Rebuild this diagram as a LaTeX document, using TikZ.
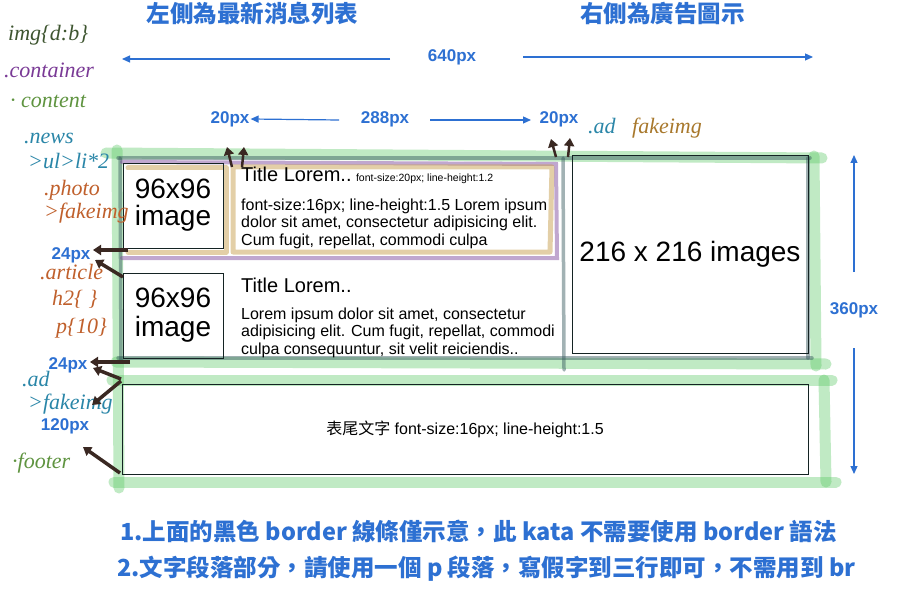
\documentclass[tikz,border=0pt]{standalone}
\usepackage{fontspec}
\setmainfont{Liberation Sans}
\newfontfamily\cjk{Noto Sans CJK TC}
\newfontfamily\handf{Liberation Serif}
\usetikzlibrary{arrows.meta}
\definecolor{dimblue}{RGB}{45,112,210}
\definecolor{ptr}{RGB}{58,40,34}
\definecolor{boxc}{RGB}{20,35,35}
\definecolor{brushgreen}{RGB}{90,200,100}
\definecolor{slate}{RGB}{50,85,90}
\definecolor{brushpurple}{RGB}{130,80,160}
\definecolor{brushgold}{RGB}{200,160,80}
\definecolor{hOlive}{RGB}{62,85,48}
\definecolor{hPurple}{RGB}{122,58,150}
\definecolor{hGreen}{RGB}{95,148,64}
\definecolor{hTeal}{RGB}{42,134,168}
\definecolor{hOrange}{RGB}{192,96,44}
\definecolor{hGold}{RGB}{168,120,44}
\tikzset{
  dimlbl/.style={text=dimblue, font=\bfseries\fontsize{17}{17}\selectfont, inner sep=1pt},
  dimarrow/.style={draw=dimblue, line width=1.2pt, -{Triangle[length=8pt,width=7pt]}},
  pointer/.style={draw=ptr, line width=3.5pt, -{Triangle[length=8pt,width=10pt]}},
  hand/.style={font=\handf\itshape\fontsize{22}{23}\selectfont, anchor=west, inner sep=0pt},
  box/.style={draw=boxc, line width=0.8pt},
  brushG/.style={draw=brushgreen, line width=11pt, opacity=0.38, line cap=round},
  brushS/.style={draw=slate, line width=3.5pt, opacity=0.45, line cap=round},
  brushP/.style={draw=brushpurple, line width=4pt, opacity=0.5, line cap=round},
  brushY/.style={draw=brushgold, line width=5pt, opacity=0.5, line cap=round, line join=round},
  headline/.style={text=dimblue, font=\cjk\bfseries\fontsize{23.5}{24}\selectfont, inner sep=0pt},
  noteline/.style={text=dimblue, font=\cjk\bfseries\fontsize{23.5}{24}\selectfont, inner sep=0pt, anchor=west},
  bodytxt/.style={font=\fontsize{16}{17.5}\selectfont, align=left, inner sep=0pt, anchor=base west},
}
\begin{document}
\begin{tikzpicture}[x=1pt,y=-1pt]
\useasboundingbox[fill=white] (0,0) rectangle (901,612);

% ---------- brush strokes ----------
\draw[brushG] (106,153) -- (822,158);
\draw[brushG] (116,362) -- (826,364);
\draw[brushG] (117,150) -- (119,488);
\draw[brushG] (814,156) -- (816,366);
\draw[brushG] (112,380) -- (832,380);
\draw[brushG] (824,380) -- (826,482);
\draw[brushG] (114,482) -- (836,482);

\draw[brushS] (118,158) -- (810,158);
\draw[brushS] (120,158) -- (121,360);
\draw[brushS] (118,358) -- (812,358);
\draw[brushS] (808,158) -- (808,358);
\draw[brushS] (563,158) -- (564,370);

\draw[brushP] (122,162) -- (556,164) -- (557,258) -- (122,258);
\draw[brushY] (128,168) -- (226,168) -- (226,252) -- (128,252);
\draw[brushY] (233,167) -- (552,167) -- (550,252) -- (233,252) -- cycle;

% ---------- boxes ----------
\node[box, minimum width=100pt, minimum height=85pt, align=center,
      font=\fontsize{28}{27}\selectfont] (img1) at (173,205.5) {96x96\\image};
\node[box, minimum width=100pt, minimum height=85pt, align=center,
      font=\fontsize{28}{29}\selectfont] (img2) at (173,315.5) {96x96\\image};
\node[box, minimum width=236pt, minimum height=198pt,
      font=\fontsize{28}{28}\selectfont] (ad) at (690,254) {216 x 216 images};
\node[box, minimum width=686pt, minimum height=90pt,
      font=\fontsize{16}{16}\selectfont] (footer) at (465,429) {{\cjk 表尾文字} font-size:16px; line-height:1.5};

% ---------- article texts ----------
\node[bodytxt] (t1) at (241,182) {{\fontsize{20}{20}\selectfont Title Lorem..}\ {\fontsize{10.5}{11}\selectfont font-size:20px; line-height:1.2}};
\node[bodytxt] (p1) at (241,245) {font-size:16px; line-height:1.5 Lorem ipsum\\dolor sit amet, consectetur adipisicing elit.\\Cum fugit, repellat, commodi culpa};
\node[bodytxt] (t2) at (241,292) {\fontsize{20}{20}\selectfont Title Lorem..};
\node[bodytxt] (p2) at (241,354) {Lorem ipsum dolor sit amet, consectetur\\adipisicing elit. Cum fugit, repellat, commodi\\culpa consequuntur, sit velit reiciendis..};

% ---------- headings ----------
\node[headline] (hl) at (252.5,14) {左側為最新消息列表};
\node[headline] (hr) at (662.5,14) {右側為廣告圖示};

% ---------- dimension labels ----------
\node[dimlbl] (w640) at (452,57) {640px};
\coordinate (w640a) at (390,59); \coordinate (w640L) at (122,59);
\coordinate (w640b) at (523,57); \coordinate (w640R) at (813,57);
\draw[dimarrow] (w640a) -- (w640L);
\draw[dimarrow] (w640b) -- (w640R);

\node[dimlbl] (g20l) at (230,119) {20px};
\node[dimlbl] (w288) at (385,119) {288px};
\node[dimlbl] (g20r) at (559,119) {20px};
\coordinate (w288a) at (339,120); \coordinate (w288b) at (430,120); \coordinate (w288R) at (531,120);
\draw[dimarrow] (w288a) -- (g20l.east);
\draw[dimarrow] (w288b) -- (w288R);

\node[dimlbl] (h360) at (854,310) {360px};
\coordinate (h360a) at (854,272); \coordinate (h360T) at (854,155);
\coordinate (h360b) at (854,348); \coordinate (h360B) at (854,474);
\draw[dimarrow] (h360a) -- (h360T);
\draw[dimarrow] (h360b) -- (h360B);

\node[dimlbl] (m24a) at (71,255) {24px};
\node[dimlbl] (m24b) at (68,365) {24px};
\node[dimlbl] (m120) at (65,426) {120px};

% ---------- handwritten labels ----------
\node[hand, text=hOlive] (lImg) at (8,35) {img\{d:b\}};
\node[hand, text=hPurple] (lCont) at (4,70) {.container};
\node[hand, text=hGreen] (lContent) at (10,101) {· content};
\node[hand, text=hTeal] (lNews) at (24,138) {.news};
\node[hand, text=hTeal] (lUl) at (28,161) {>ul>li*2};
\node[hand, text=hOrange] (lPhoto) at (44,190) {.photo};
\node[hand, text=hOrange] (lFake1) at (44,213) {>fakeimg};
\node[hand, text=hOrange] (lArt) at (40,272) {.article};
\node[hand, text=hOrange] (lH2) at (52,299) {h2\{ \}};
\node[hand, text=hOrange] (lP) at (56,328) {p\{10\}};
\node[hand, text=hTeal] (lAd) at (22,379) {.ad};
\node[hand, text=hTeal] (lFake2) at (28,404) {>fakeimg};
\node[hand, text=hGreen] (lFooter) at (12,463) {·footer};
\node[hand, text=hTeal] (lAdTop) at (588,126) {.ad};
\node[hand, text=hGold] (lFakeTop) at (632,128) {fakeimg};

% ---------- pointer arrows ----------
\coordinate (a1s) at (128,250); \coordinate (a1t) at (93,250);
\coordinate (a2s) at (123,277); \coordinate (a2t) at (95,260);
\coordinate (a3s) at (130,362); \coordinate (a3t) at (90,362);
\coordinate (a4s) at (121,379); \coordinate (a4t) at (93,368);
\coordinate (a5s) at (121,381); \coordinate (a5t) at (92,405);
\coordinate (a6s) at (120,473); \coordinate (a6t) at (83,447);
\draw[pointer] (a1s) -- (a1t);
\draw[pointer] (a2s) -- (a2t);
\draw[pointer] (a3s) -- (a3t);
\draw[pointer] (a4s) -- (a4t);
\draw[pointer] (a5s) -- (a5t);
\draw[pointer] (a6s) -- (a6t);
\coordinate (u1s) at (232,167); \coordinate (u1t) at (227,147);
\coordinate (u2s) at (242,167); \coordinate (u2t) at (244,147);
\coordinate (u3s) at (556,157); \coordinate (u3t) at (551,139);
\coordinate (u4s) at (568,157); \coordinate (u4t) at (570,138);
\draw[pointer, line width=2.5pt] (u1s) -- (u1t);
\draw[pointer, line width=2.5pt] (u2s) -- (u2t);
\draw[pointer, line width=2.5pt] (u3s) -- (u3t);
\draw[pointer, line width=2.5pt] (u4s) -- (u4t);

% ---------- notes ----------
\node[noteline] (n1) at (120,531) {1.上面的黑色 border 線條僅示意，此 kata 不需要使用 border 語法};
\node[noteline] (n2) at (117,569) {2.文字段落部分，請使用一個 p 段落，寫假字到三行即可，不需用到 br};
\end{tikzpicture}
\end{document}
